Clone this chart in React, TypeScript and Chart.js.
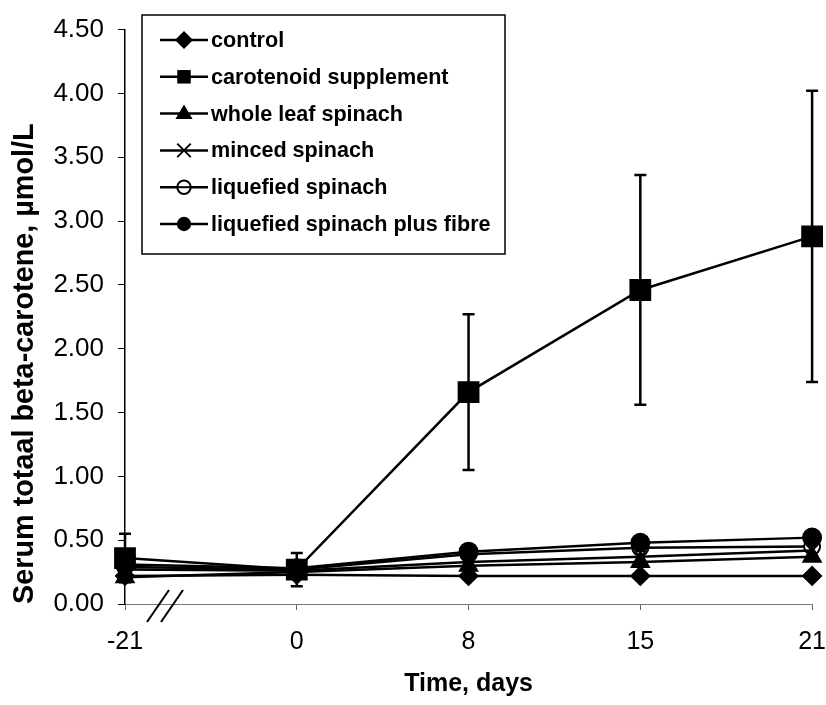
import React, { useEffect, useRef } from 'react';
import { Chart, registerables } from 'chart.js';

Chart.register(...registerables);

const days = ['-21', '0', '8', '15', '21'];
const control = [0.22, 0.23, 0.22, 0.22, 0.22];
const carotenoid = [0.36, 0.27, 1.66, 2.46, 2.88];
const carotenoidSD = [0.19, 0.13, 0.61, 0.9, 1.14];
const wholeLeaf = [0.21, 0.25, 0.3, 0.33, 0.37];
const minced = [0.27, 0.26, 0.33, 0.37, 0.42];
const liquefied = [0.29, 0.27, 0.39, 0.44, 0.45];
const liquefiedFibre = [0.31, 0.28, 0.41, 0.48, 0.52];
const seriesNames = [
  'control',
  'carotenoid supplement',
  'whole leaf spinach',
  'minced spinach',
  'liquefied spinach',
  'liquefied spinach plus fibre',
];
const markerKinds = ['diamond', 'square', 'triangle', 'cross', 'openCircle', 'circle'];

const FONT = '"Liberation Sans", Arial, Helvetica, sans-serif';

function drawMarker(ctx: CanvasRenderingContext2D, kind: string, x: number, y: number, s: number) {
  ctx.save();
  ctx.fillStyle = '#000';
  ctx.strokeStyle = '#000';
  ctx.lineWidth = 2;
  ctx.beginPath();
  if (kind === 'diamond') {
    ctx.moveTo(x, y - s);
    ctx.lineTo(x + s, y);
    ctx.lineTo(x, y + s);
    ctx.lineTo(x - s, y);
    ctx.closePath();
    ctx.fill();
  } else if (kind === 'square') {
    ctx.rect(x - s * 0.75, y - s * 0.75, s * 1.5, s * 1.5);
    ctx.fill();
  } else if (kind === 'triangle') {
    ctx.moveTo(x, y - s);
    ctx.lineTo(x + s * 0.95, y + s * 0.6);
    ctx.lineTo(x - s * 0.95, y + s * 0.6);
    ctx.closePath();
    ctx.fill();
  } else if (kind === 'cross') {
    const d = s * 0.75;
    ctx.moveTo(x - d, y - d);
    ctx.lineTo(x + d, y + d);
    ctx.moveTo(x + d, y - d);
    ctx.lineTo(x - d, y + d);
    ctx.stroke();
  } else if (kind === 'openCircle') {
    ctx.arc(x, y, s * 0.75, 0, Math.PI * 2);
    ctx.fillStyle = '#fff';
    ctx.fill();
    ctx.stroke();
    ctx.beginPath();
    ctx.moveTo(x - s * 0.75, y);
    ctx.lineTo(x + s * 0.75, y);
    ctx.stroke();
  } else {
    ctx.arc(x, y, s * 0.8, 0, Math.PI * 2);
    ctx.fill();
  }
  ctx.restore();
}

const errorBarPlugin = {
  id: 'errorBars',
  beforeDatasetsDraw(chart: any) {
    const ctx = chart.ctx as CanvasRenderingContext2D;
    const xs = chart.scales.x;
    const ys = chart.scales.y;
    ctx.save();
    ctx.strokeStyle = '#000';
    ctx.lineWidth = 2.5;
    carotenoid.forEach((v, i) => {
      const x = xs.getPixelForValue(i);
      const yHi = ys.getPixelForValue(v + carotenoidSD[i]);
      const yLo = ys.getPixelForValue(v - carotenoidSD[i]);
      ctx.beginPath();
      ctx.moveTo(x, yHi);
      ctx.lineTo(x, yLo);
      ctx.moveTo(x - 6, yHi);
      ctx.lineTo(x + 6, yHi);
      ctx.moveTo(x - 6, yLo);
      ctx.lineTo(x + 6, yLo);
      ctx.stroke();
    });
    ctx.restore();
  },
};

const overlayPlugin = {
  id: 'overlay',
  afterDraw(chart: any) {
    const ctx = chart.ctx as CanvasRenderingContext2D;
    const xs = chart.scales.x;
    const ys = chart.scales.y;
    ctx.save();
    // axis break marks
    const bx = xs.getPixelForValue(0) + 22;
    const by = ys.getPixelForValue(0);
    ctx.strokeStyle = '#000';
    ctx.lineWidth = 2;
    for (const off of [0, 14]) {
      ctx.beginPath();
      ctx.moveTo(bx + off, by + 18);
      ctx.lineTo(bx + off + 22, by - 14);
      ctx.stroke();
    }
    // legend box
    const lx = 142;
    const ly = 15;
    const lw = 363;
    const lh = 239;
    ctx.fillStyle = '#fff';
    ctx.fillRect(lx, ly, lw, lh);
    ctx.strokeStyle = '#000';
    ctx.lineWidth = 1.5;
    ctx.strokeRect(lx, ly, lw, lh);
    ctx.font = `bold 21.6px ${FONT}`;
    ctx.textBaseline = 'middle';
    ctx.textAlign = 'left';
    seriesNames.forEach((name, i) => {
      const y = 40 + i * 36.8;
      ctx.strokeStyle = '#000';
      ctx.lineWidth = 2.5;
      ctx.beginPath();
      ctx.moveTo(160, y);
      ctx.lineTo(208, y);
      ctx.stroke();
      drawMarker(ctx, markerKinds[i], 184, y, 9);
      ctx.fillStyle = '#000';
      ctx.fillText(name, 211, y + 1);
    });
    ctx.restore();
  },
};

export default function App() {
  const canvasRef = useRef<HTMLCanvasElement | null>(null);

  useEffect(() => {
    if (!canvasRef.current) return;
    const series = [control, carotenoid, wholeLeaf, minced, liquefied, liquefiedFibre];
    const styles: any[] = [
      { pointStyle: 'rectRot', pointRadius: 9, backgroundColor: '#000', order: 3 },
      { pointStyle: 'rect', pointRadius: 14, backgroundColor: '#000', order: 0 },
      { pointStyle: 'triangle', pointRadius: 10, backgroundColor: '#000', order: 2 },
      { pointStyle: 'crossRot', pointRadius: 8, backgroundColor: '#000', order: 4 },
      { pointStyle: 'circle', pointRadius: 8, backgroundColor: '#fff', order: 5 },
      { pointStyle: 'circle', pointRadius: 9, backgroundColor: '#000', order: 1 },
    ];
    const chart = new Chart(canvasRef.current, {
      type: 'line',
      data: {
        labels: days,
        datasets: series.map((d, i) => ({
          label: seriesNames[i],
          data: d,
          borderColor: '#000',
          borderWidth: 2.5,
          pointBorderColor: '#000',
          pointBorderWidth: 2,
          tension: 0,
          fill: false,
          ...styles[i],
        })),
      },
      options: {
        animation: false,
        responsive: false,
        devicePixelRatio: 1,
        layout: { padding: { top: 17, right: 0, left: 0, bottom: 0 } },
        plugins: {
          legend: { display: false },
          tooltip: { enabled: false },
        },
        scales: {
          x: {
            type: 'category',
            offset: false,
            grid: {
              drawOnChartArea: false,
              drawTicks: true,
              tickLength: 6,
              color: '#666',
            },
            border: { color: '#777', width: 1 },
            ticks: {
              color: '#000',
              font: { family: FONT, size: 25 },
              padding: 17,
              maxRotation: 0,
            },
            title: {
              display: true,
              text: 'Time, days',
              color: '#000',
              font: { family: FONT, size: 25, weight: 'bold', lineHeight: 1 },
              padding: { top: 0, bottom: 8 },
            },
            afterFit: (scale: any) => {
              scale.height = 101;
            },
          },
          y: {
            min: 0,
            max: 4.5,
            grid: {
              drawOnChartArea: false,
              drawTicks: true,
              tickLength: 7,
              color: '#000',
            },
            border: { color: '#000', width: 1.5 },
            ticks: {
              stepSize: 0.5,
              color: '#000',
              font: { family: FONT, size: 26 },
              padding: 14,
              callback: (v: any) => Number(v).toFixed(2),
            },
            title: {
              display: true,
              text: 'Serum totaal beta-carotene, µmol/L',
              align: 'start',
              color: '#000',
              font: { family: FONT, size: 28.8, weight: 'bold', lineHeight: 1 },
              padding: { top: 11, bottom: 3 },
            },
            afterFit: (scale: any) => {
              scale.width = 125;
            },
          },
        },
      },
      plugins: [errorBarPlugin, overlayPlugin],
    });
    return () => chart.destroy();
  }, []);

  return (
    <div style={{ position: 'absolute', left: 0, top: 0, width: 826, height: 705, overflow: 'hidden', background: '#fff' }}>
      <canvas ref={canvasRef} width={843} height={705} />
    </div>
  );
}
